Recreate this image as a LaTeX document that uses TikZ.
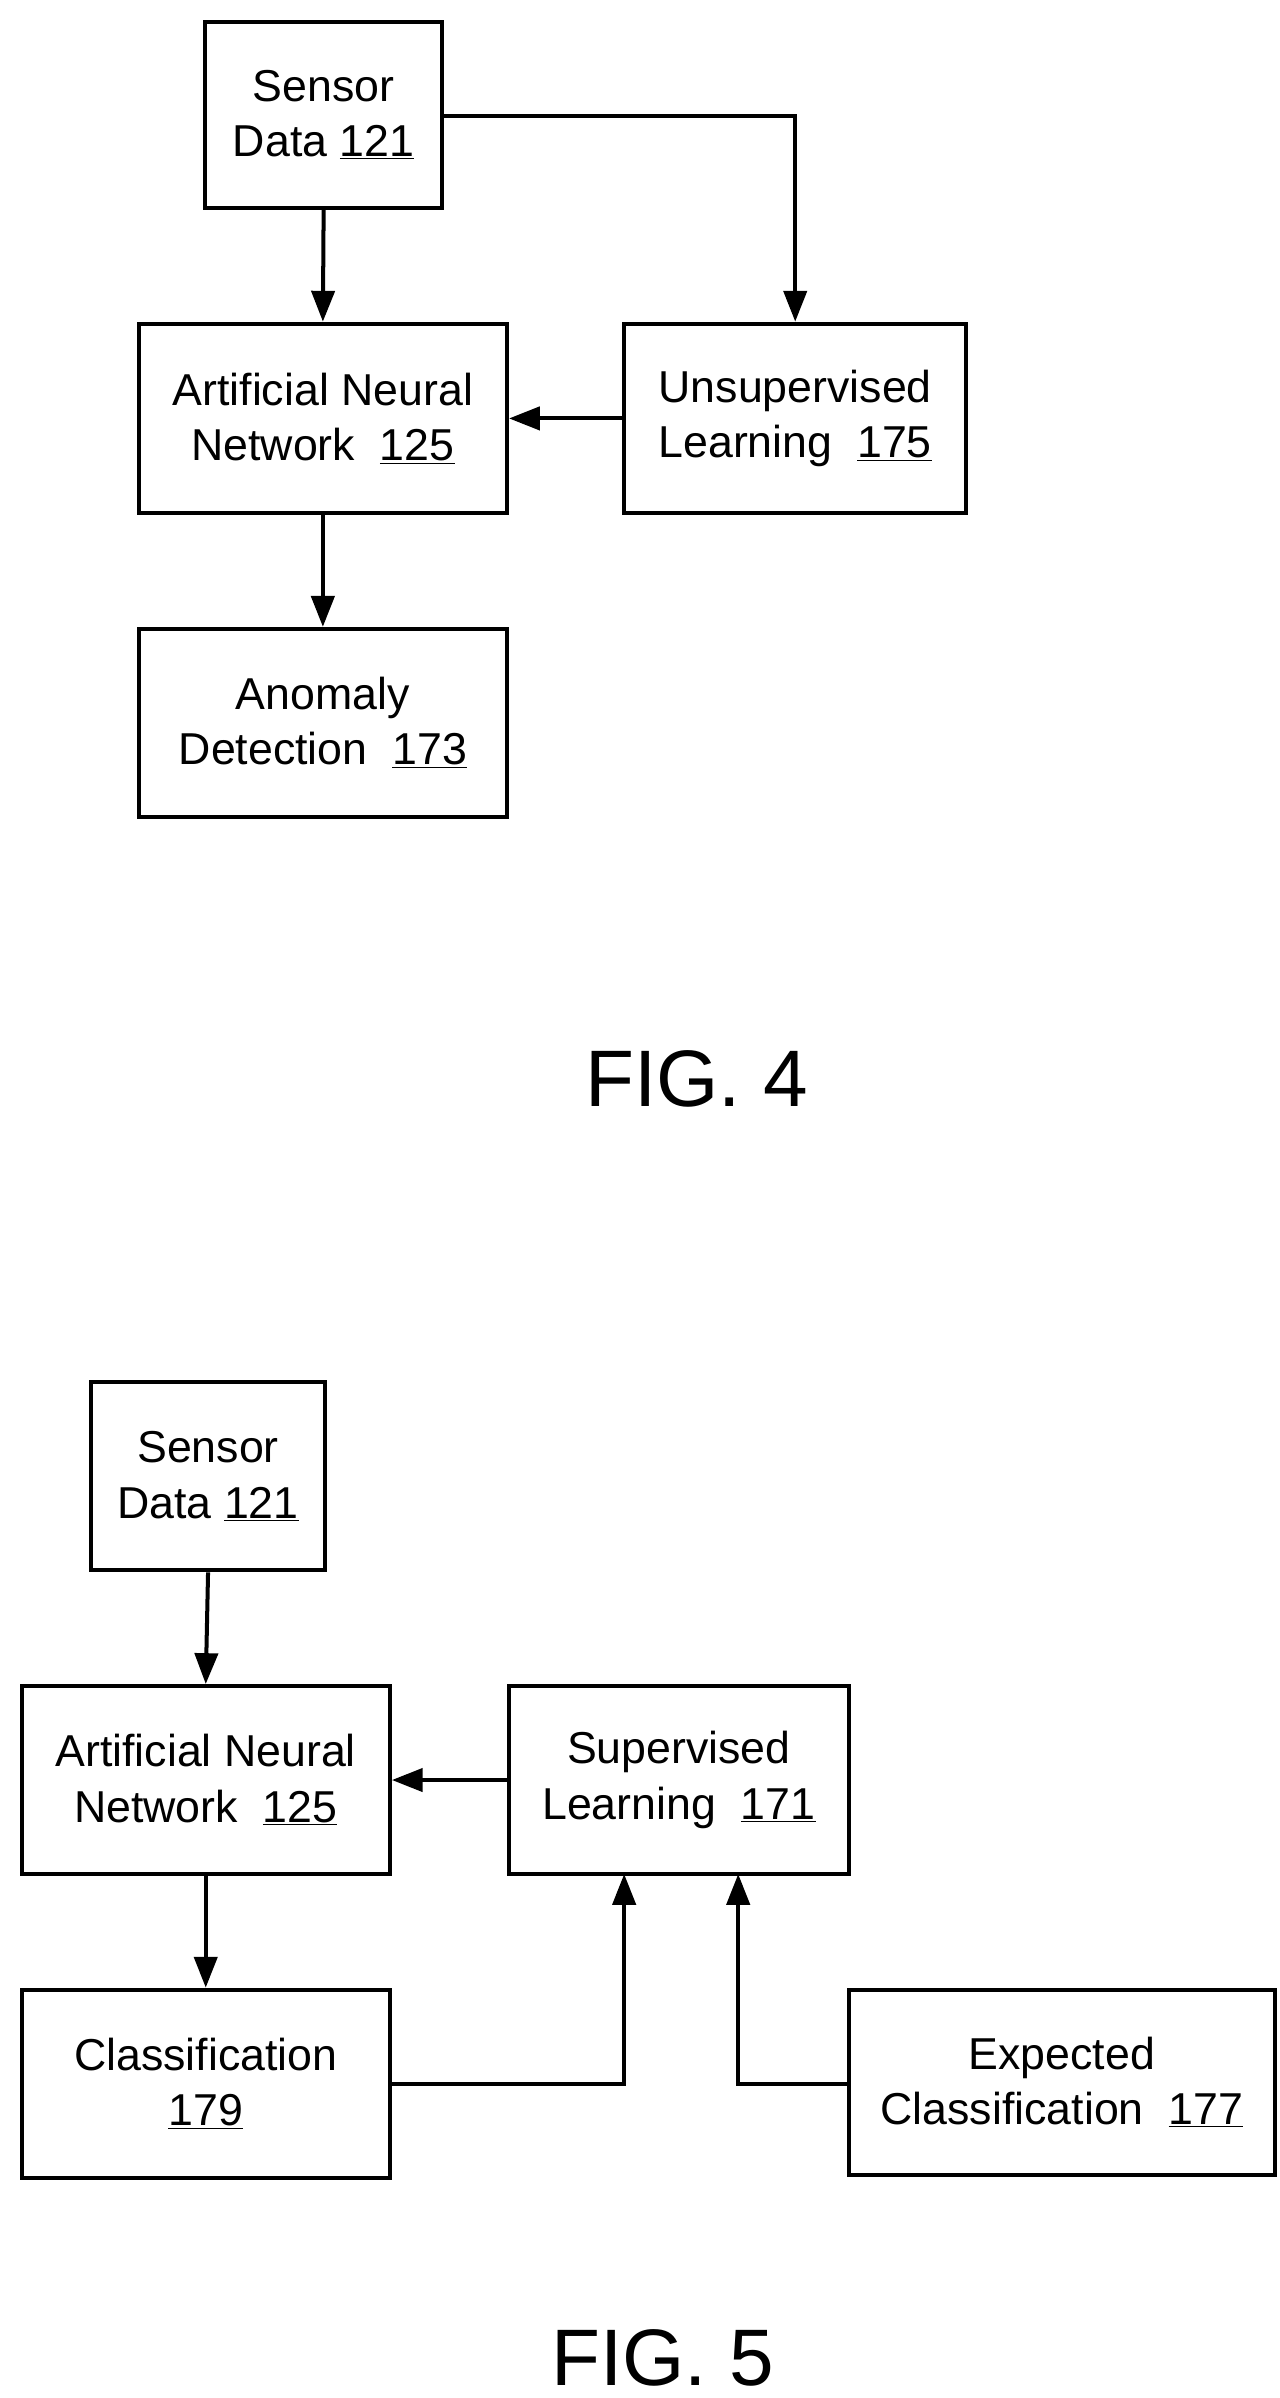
\documentclass[tikz,border=0pt]{standalone}
\usepackage{fontspec}
\setmainfont{Liberation Sans}
\usetikzlibrary{arrows.meta}
\begin{document}
\begin{tikzpicture}[x=1pt,y=-1pt,
  box/.style={draw,line width=2.6pt,inner sep=0pt,font=\fontsize{29}{36}\selectfont,align=center},
  arr/.style={line width=2.6pt,-{Triangle[length=20pt,width=15pt]}},
  ln/.style={line width=2.6pt},
  fig/.style={font=\fontsize{52}{60}\selectfont}]
\useasboundingbox (0,0) rectangle (830,1556);
\newcommand{\bx}[5]{\node[box,minimum width=#4-#2,minimum height=#5-#3] (#1) at ({(#2+#4)/2},{(#3+#5)/2})}
\bx{s4}{133}{14}{287}{135} {Sensor\\Data \underline{121}};
\bx{a4}{90}{210}{329}{333} {Artificial Neural\\Network \ \underline{125}};
\bx{u4}{405}{210}{627}{333} {Unsupervised\\Learning \ \underline{175}};
\bx{d4}{90}{408}{329}{530} {Anomaly\\Detection \ \underline{173}};
\draw[arr] (s4.south) -- (a4.north);
\draw[arr] (s4.east |- 0,75) -| (u4.north);
\draw[arr] (u4.west) -- (a4.east);
\draw[arr] (a4.south) -- (d4.north);
\node[fig] (f4) at (452,700) {FIG. 4};
\bx{s5}{59}{897}{211}{1019} {Sensor\\Data \underline{121}};
\bx{a5}{14}{1094}{253}{1216} {Artificial Neural\\Network \ \underline{125}};
\bx{p5}{330}{1094}{551}{1216} {Supervised\\Learning \ \underline{171}};
\bx{c5}{14}{1291}{253}{1413} {Classification\\\underline{179}};
\bx{e5}{551}{1291}{827}{1411} {Expected\\Classification \ \underline{177}};
\draw[arr] (s5.south) -- (a5.north);
\draw[arr] (p5.west) -- (a5.east);
\draw[arr] (a5.south) -- (c5.north);
\coordinate (k1) at (405,1216);
\coordinate (k2) at (479,1216);
\draw[arr] (c5.east |- 0,1352) -| (k1);
\draw[arr] (e5.west |- 0,1352) -| (k2);
\node[fig] (f5) at (430,1530) {FIG. 5};
\end{tikzpicture}
\end{document}
